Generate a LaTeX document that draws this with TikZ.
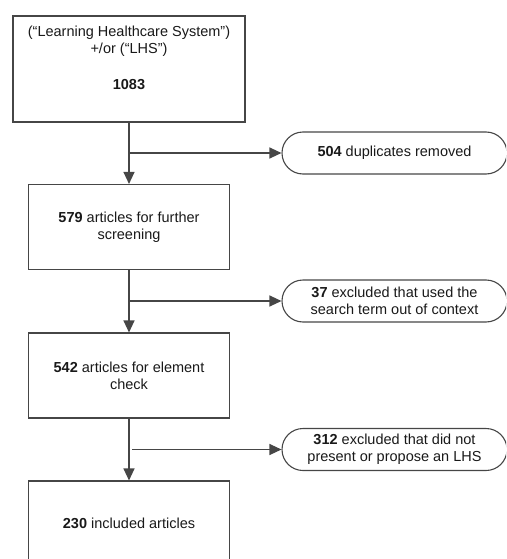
\documentclass[tikz,border=0pt]{standalone}
\usepackage{fontspec}
\setmainfont{Liberation Sans}
\usetikzlibrary{arrows.meta}

\definecolor{edge}{RGB}{70,70,70}
\definecolor{ink} {RGB}{25,25,25}

\begin{document}
\begin{tikzpicture}[x=1pt,y=-1pt,
    font=\fontsize{14.5}{17}\selectfont,
    stage/.style={draw=edge,line width=1.1pt,minimum width=201pt,minimum height=85pt,align=center,text=ink,inner sep=0pt},
    dropout/.style={draw=edge,line width=1.1pt,rounded corners=21pt,minimum width=225pt,minimum height=42pt,align=center,text=ink,inner sep=0pt},
    flow/.style={draw=edge,line width=1.2pt,-{Triangle[length=12pt,width=11pt]}}]

    \useasboundingbox (0,0) rectangle (506,559);
    \clip (0,0) rectangle (506,559);

    \node[stage,minimum width=232pt,minimum height=106pt] (query) at (129,69) {(“Learning Healthcare System”)\\+/or (“LHS”)\\[19pt]\textbf{1083}\rule[-23pt]{0pt}{0pt}};
    \node[stage] (screen) at (129,227)   {\textbf{579} articles for further\\screening};
    \node[stage] (check)  at (129,375.5) {\textbf{542} articles for element\\check};
    \node[stage] (incl)   at (129,523.5) {\textbf{230} included articles};

    \node[dropout] (dupl)  at (394.5,153)   {\textbf{504} duplicates removed};
    \node[dropout] (ctx)   at (394.5,301)   {\textbf{37} excluded that used the\\search term out of context};
    \node[dropout] (nolhs) at (394.5,449.5) {\textbf{312} excluded that did not\\present or propose an LHS};

    % branch points on the main line
    \coordinate (b1) at (129,153);
    \coordinate (b2) at (129,301);
    \coordinate (b3) at (132,449.5);

    \draw[flow] (query) -- (screen);
    \draw[flow] (screen) -- (check);
    \draw[flow] (check) -- (incl);
    \draw[flow] (b1) -- (dupl);
    \draw[flow] (b2) -- (ctx);
    \draw[flow] (b3) -- (nolhs);

\end{tikzpicture}
\end{document}
